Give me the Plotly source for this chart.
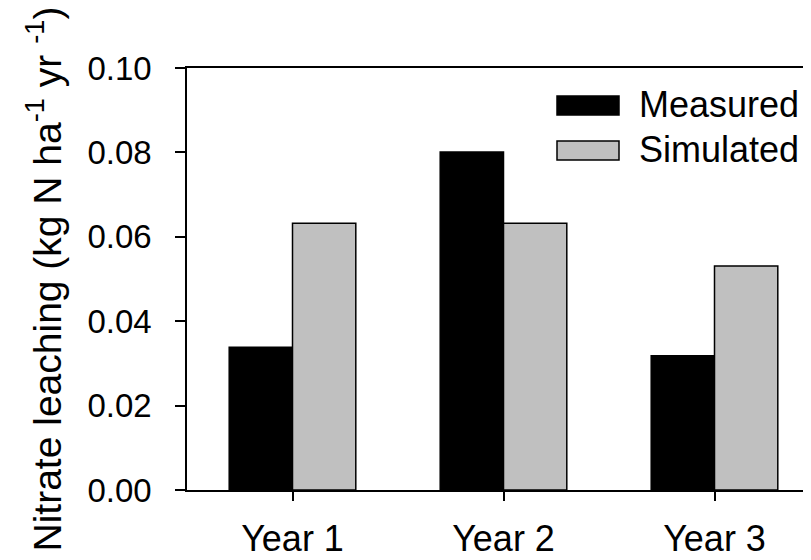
import plotly.graph_objects as go

categories = ["Year 1", "Year 2", "Year 3"]
measured = [0.0338, 0.0801, 0.0318]
simulated = [0.0632, 0.0632, 0.0531]
y_ticks = [0.00, 0.02, 0.04, 0.06, 0.08, 0.10]
series_names = ["Measured", "Simulated"]

FONT = "Liberation Sans, Arial, sans-serif"
OFF = 8  # page body margin offset
W, H = 811, 560
L, R, T = 187 - OFF, 0, 68 - OFF
B = H - (490 - OFF)
pw, ph = W - L - R, H - T - B
cat_px = 211.0  # pixel width of one category

def px(x):
    return (x - OFF - L) / pw

def py(y):
    return (H - B - (y - OFF)) / ph

fig = go.Figure()
fig.add_trace(go.Bar(x=list(range(3)), y=measured, name=series_names[0],
                     marker=dict(color="#000000", line=dict(color="#000000", width=1.5)),
                     showlegend=False))
fig.add_trace(go.Bar(x=list(range(3)), y=simulated, name=series_names[1],
                     marker=dict(color="#c0c0c0", line=dict(color="#000000", width=1.5)),
                     showlegend=False))

# legend drawn as layout shapes + text (screen pixel positions)
legend_rows = [(series_names[0], "#000000", 96, 115, 104), (series_names[1], "#c0c0c0", 141, 160, 149)]
for name, col, y0, y1, yc in legend_rows:
    fig.add_shape(type="rect", xref="paper", yref="paper",
                  x0=px(557), x1=px(619), y0=py(y1), y1=py(y0),
                  fillcolor=col, line=dict(color="#000000", width=1.5))
    fig.add_annotation(xref="paper", yref="paper", x=px(637), y=py(yc),
                       text=name, showarrow=False, xanchor="left", yanchor="middle",
                       font=dict(family=FONT, size=36, color="#000000"))

fig.update_layout(
    width=W, height=H,
    margin=dict(l=L, r=R, t=T, b=B, autoexpand=False),
    paper_bgcolor="white", plot_bgcolor="white",
    barmode="group", bargap=0.4, bargroupgap=0,
    font=dict(family=FONT, color="#000000"),
)
fig.update_xaxes(
    range=[-0.5, -0.5 + pw / cat_px], tickvals=list(range(3)), ticktext=categories,
    showline=True, linecolor="#000000", linewidth=1.5, mirror=True,
    ticks="outside", ticklen=9, tickwidth=1.5, tickcolor="#000000",
    showgrid=False, zeroline=False, tickfont=dict(family=FONT, size=36),
    ticklabelstandoff=7,
)
fig.update_yaxes(
    range=[0, 0.10], tickvals=y_ticks, tickformat=".2f",
    showline=True, linecolor="#000000", linewidth=1.5, mirror=False,
    ticks="outside", ticklen=10, tickwidth=1.5, tickcolor="#000000",
    showgrid=False, zeroline=False, tickfont=dict(family=FONT, size=33),
    ticklabelstandoff=17,
    title=dict(text="Nitrate leaching (kg N ha<sup>-1</sup> yr <sup>-1</sup>)",
               font=dict(family=FONT, size=39), standoff=14),
)

fig.write_html("out.html")
